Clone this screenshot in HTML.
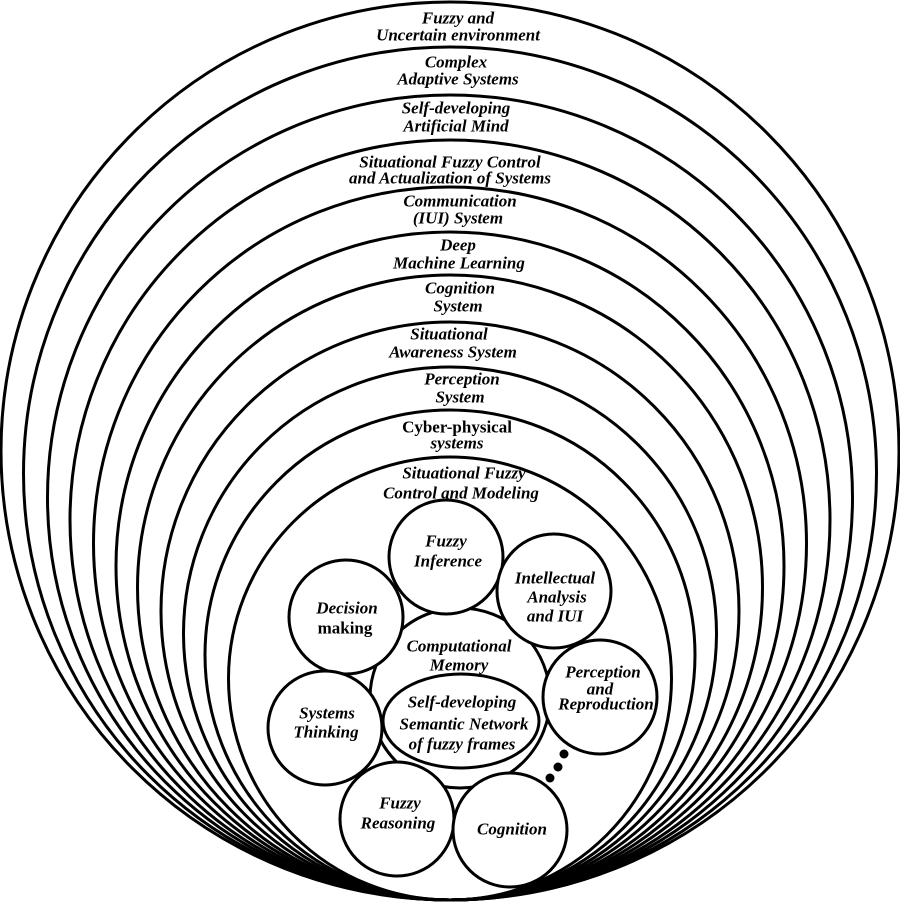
<!DOCTYPE html>
<html><head><meta charset="utf-8"><style>
html,body{margin:0;padding:0;background:#fff;}
svg{display:block;}
text{font-family:"Liberation Serif","DejaVu Serif","Times New Roman",Times,serif;font-weight:bold;font-style:italic;font-size:17px;fill:#000;text-anchor:middle;dominant-baseline:central;}
</style></head><body>
<svg width="900" height="904" viewBox="0 0 900 904" xmlns="http://www.w3.org/2000/svg">
<g fill="none" stroke="#000" stroke-width="3">
<circle cx="450" cy="451" r="449"/>
<circle cx="450" cy="473.5" r="426.5"/>
<circle cx="450" cy="497.5" r="402.5"/>
<circle cx="450" cy="520" r="380"/>
<circle cx="450" cy="543.5" r="356.5"/>
<circle cx="450" cy="566" r="334"/>
<circle cx="450" cy="587.5" r="312.5"/>
<circle cx="450" cy="611" r="289"/>
<circle cx="450" cy="633.5" r="266.5"/>
<circle cx="450" cy="655" r="245"/>
<circle cx="450" cy="678.5" r="221.5"/>
</g>
<g fill="#fff" stroke="#000" stroke-width="3">
<circle cx="460" cy="698" r="90"/>
<ellipse cx="461" cy="721" rx="78" ry="47"/>
<circle cx="446" cy="557" r="57"/>
<circle cx="554" cy="591" r="57"/>
<circle cx="346" cy="617" r="57"/>
<circle cx="600" cy="697" r="57"/>
<circle cx="325" cy="728" r="57"/>
<circle cx="397" cy="819" r="57"/>
<circle cx="510" cy="830" r="57"/>
</g>
<g fill="#000">
<circle cx="564" cy="754" r="4.5"/>
<circle cx="558" cy="767" r="4.5"/>
<circle cx="550" cy="778" r="4.5"/>
</g>
<text x="458" y="18">Fuzzy and</text>
<text x="458" y="35">Uncertain environment</text>
<text x="456" y="62">Complex</text>
<text x="458" y="79">Adaptive Systems</text>
<text x="456" y="108">Self-developing</text>
<text x="456" y="126">Artificial Mind</text>
<text x="450" y="162">Situational Fuzzy Control</text>
<text x="450" y="178">and Actualization of Systems</text>
<text x="460" y="201">Communication</text>
<text x="458" y="218">(IUI) System</text>
<text x="458" y="245">Deep</text>
<text x="459" y="263">Machine Learning</text>
<text x="460" y="288">Cognition</text>
<text x="458" y="306">System</text>
<text x="449" y="334">Situational</text>
<text x="453" y="352">Awareness System</text>
<text x="462" y="379">Perception</text>
<text x="460" y="397">System</text>
<text x="457" y="427" style="font-style:normal">Cyber-physical</text>
<text x="457" y="443">systems</text>
<text x="464" y="473">Situational Fuzzy</text>
<text x="461" y="493">Control and Modeling</text>
<text x="446" y="541">Fuzzy</text>
<text x="448" y="561">Inference</text>
<text x="555" y="578">Intellectual</text>
<text x="557" y="597">Analysis</text>
<text x="555" y="616">and IUI</text>
<text x="347" y="608">Decision</text>
<text x="345" y="628" style="font-style:normal">making</text>
<text x="459" y="646">Computational</text>
<text x="459" y="665">Memory</text>
<text x="462" y="702">Self-developing</text>
<text x="464" y="724">Semantic Network</text>
<text x="462" y="744">of fuzzy frames</text>
<text x="603" y="672">Perception</text>
<text x="600" y="689">and</text>
<text x="606" y="704">Reproduction</text>
<text x="327" y="713">Systems</text>
<text x="326" y="732">Thinking</text>
<text x="400" y="803">Fuzzy</text>
<text x="398" y="823">Reasoning</text>
<text x="512" y="829">Cognition</text>
</svg>
</body></html>
